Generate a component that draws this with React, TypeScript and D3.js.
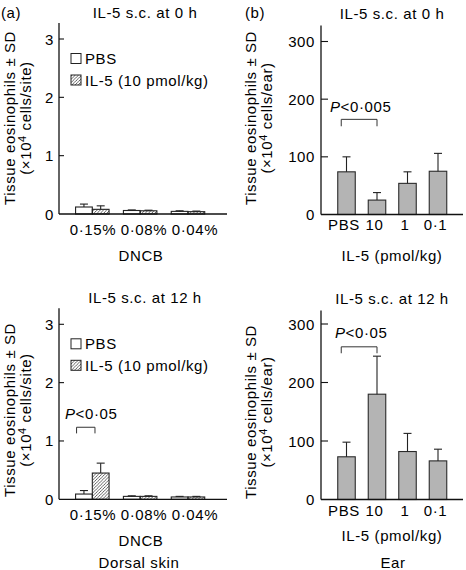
import React from 'react';
import * as d3 from 'd3';

const dncbCats = ['0·15%', '0·08%', '0·04%'];
const pbs0h = [0.12, 0.06, 0.045];
const pbs0hSd = [0.05, 0.01, 0.01];
const il50h = [0.08, 0.055, 0.04];
const il50hSd = [0.06, 0.01, 0.01];
const pbs12h = [0.09, 0.05, 0.04];
const pbs12hSd = [0.06, 0.01, 0.01];
const il512h = [0.45, 0.05, 0.04];
const il512hSd = [0.17, 0.01, 0.01];

const doseCats = ['PBS', '10', '1', '0·1'];
const ear0h = [74, 25, 54, 75];
const ear0hSd = [26, 13, 20, 31];
const ear12h = [73, 180, 82, 66];
const ear12hSd = [25, 65, 31, 20];

const skinTicks = [0, 1, 2, 3];
const earTicks = [0, 100, 200, 300];

const FONT = '"Liberation Sans", Arial, Helvetica, sans-serif';
const FS = 15;
const LS = 0.6;

function T(props: any) {
  const { children, ...rest } = props;
  return (
    <text fontFamily={FONT} fontSize={FS} letterSpacing={LS} fill="#000" {...rest}>
      {children}
    </text>
  );
}

function ErrBar({ x, y0, y1 }: { x: number; y0: number; y1: number }) {
  return (
    <g stroke="#222" strokeWidth={1.1}>
      <line x1={x} x2={x} y1={y0} y2={y1} />
      <line x1={x - 4} x2={x + 4} y1={y1} y2={y1} />
    </g>
  );
}

function YLabel({ x, cy, unit }: { x: number; cy: number; unit: string }) {
  return (
    <g>
      <T transform={`translate(${x},${cy}) rotate(-90)`} textAnchor="middle">
        Tissue eosinophils ± SD
      </T>
      <T transform={`translate(${x + 16},${cy}) rotate(-90)`} textAnchor="middle">
        (×10<tspan dy={-5} fontSize={11}>4</tspan>
        <tspan dy={5}> cells/{unit})</tspan>
      </T>
    </g>
  );
}

function SkinPanel(props: {
  y0: number;
  title: string;
  pbs: number[];
  pbsSd: number[];
  il5: number[];
  il5Sd: number[];
  sig?: boolean;
  bottomLabel?: string;
}) {
  const { y0, title, pbs, pbsSd, il5, il5Sd, sig, bottomLabel } = props;
  const axisX = 59;
  const y = d3.scaleLinear().domain([0, 3]).range([y0, y0 - 175]);
  const xb = d3.scaleBand().domain(dncbCats).range([68.4, 211.9]).paddingInner(0.3).paddingOuter(0.15);
  const xl = d3.scalePoint().domain(dncbCats).range([93, 195]);
  const bw = xb.bandwidth() / 2;
  const top = y0 - 191;
  return (
    <g>
      <T x={145} y={y0 - 196} textAnchor="middle">{title}</T>
      {dncbCats.map((c, i) => {
        const x0 = xb(c)!;
        return (
          <g key={c}>
            <rect x={x0} y={y(pbs[i])} width={bw} height={y0 - y(pbs[i])} fill="#fff" stroke="#222" strokeWidth={1.1} />
            <ErrBar x={x0 + bw / 2} y0={y(pbs[i])} y1={y(pbs[i] + pbsSd[i])} />
            <rect x={x0 + bw} y={y(il5[i])} width={bw} height={y0 - y(il5[i])} fill="url(#hatch)" stroke="#222" strokeWidth={1.1} />
            <ErrBar x={x0 + bw * 1.5} y0={y(il5[i])} y1={y(il5[i] + il5Sd[i])} />
          </g>
        );
      })}
      <line x1={axisX} x2={axisX} y1={top} y2={y0} stroke="#111" strokeWidth={1.3} />
      <line x1={axisX} x2={227} y1={y0} y2={y0} stroke="#111" strokeWidth={1.3} />
      {skinTicks.map((t) => (
        <g key={t}>
          {t > 0 && <line x1={axisX} x2={axisX + 5} y1={y(t)} y2={y(t)} stroke="#111" strokeWidth={1.1} />}
          <T x={axisX - 5} y={y(t) + 5.5} textAnchor="end">{t}</T>
        </g>
      ))}
      {dncbCats.map((c) => (
        <T key={c} x={xl(c)} y={y0 + 21} textAnchor="middle">{c}</T>
      ))}
      <T x={141} y={y0 + 46.5} textAnchor="middle">DNCB</T>
      {bottomLabel && <T x={139} y={y0 + 69} textAnchor="middle">{bottomLabel}</T>}
      {/* legend */}
      <rect x={71} y={y(3) + 14.5} width={10} height={10} fill="#fff" stroke="#222" strokeWidth={1} />
      <T x={85} y={y(3) + 25}>PBS</T>
      <rect x={71} y={y(3) + 36} width={10} height={10} fill="url(#hatch)" stroke="#222" strokeWidth={1} />
      <T x={85} y={y(3) + 46.5}>IL-5 (10 pmol/kg)</T>
      {sig && (
        <g>
          <T x={65} y={y(1.377)}>
            <tspan fontStyle="italic">P</tspan>{'<0·05'}
          </T>
          <path
            d={`M${xb(dncbCats[0])! + 1},${y(1.13)}V${y(1.235)}H${xb(dncbCats[0])! + 19.4}V${y(1.13)}`}
            fill="none"
            stroke="#333"
            strokeWidth={1}
          />
        </g>
      )}
    </g>
  );
}

function EarPanel(props: {
  y0: number;
  y300: number;
  title: string;
  vals: number[];
  sd: number[];
  pText: string;
  pY: number;
  bTop: number;
  bLeg: number;
  pX: number;
  lblDy: number;
  axisLblDy: number;
}) {
  const { y0, y300, title, vals, sd, pText, pY, bTop, bLeg, pX, lblDy, axisLblDy } = props;
  const axisX = 321;
  const y = d3.scaleLinear().domain([0, 300]).range([y0, y300]);
  const xb = d3.scaleBand().domain(doseCats).range([331.25, 453.25]).paddingInner(0.426).paddingOuter(0.213);
  const bw = xb.bandwidth();
  const top = y0 - 189;
  return (
    <g>
      <T x={392} y={y0 - 196} textAnchor="middle">{title}</T>
      {doseCats.map((c, i) => (
        <g key={c}>
          <rect x={xb(c)!} y={y(vals[i])} width={bw} height={y0 - y(vals[i])} fill="#b4b4b4" stroke="#2a2a2a" strokeWidth={1.1} />
          <ErrBar x={xb(c)! + bw / 2} y0={y(vals[i])} y1={y(vals[i] + sd[i])} />
        </g>
      ))}
      <line x1={axisX} x2={axisX} y1={top} y2={y0} stroke="#111" strokeWidth={1.3} />
      <line x1={axisX} x2={463} y1={y0} y2={y0} stroke="#111" strokeWidth={1.3} />
      {earTicks.map((t) => (
        <g key={t}>
          {t > 0 && <line x1={axisX} x2={axisX + 7} y1={y(t)} y2={y(t)} stroke="#111" strokeWidth={1.1} />}
          <T x={axisX - 6} y={y(t) + 5.5} textAnchor="end">{t}</T>
        </g>
      ))}
      {doseCats.map((c) => (
        <T key={c} x={xb(c)! + bw / 2 - 2.5} y={y0 + lblDy} textAnchor="middle">{c}</T>
      ))}
      <T x={392} y={y0 + axisLblDy} textAnchor="middle">IL-5 (pmol/kg)</T>
      <T x={pX} y={y(pY)}>
        <tspan fontStyle="italic">P</tspan>{pText}
      </T>
      <path
        d={`M${xb(doseCats[0])! + 3.5},${y(bLeg)}V${y(bTop)}H${xb(doseCats[1])! + bw / 2}V${y(bLeg)}`}
        fill="none"
        stroke="#333"
        strokeWidth={1}
      />
    </g>
  );
}

export default function App() {
  return (
    <svg width={466} height={570} style={{ position: 'absolute', left: 0, top: 0, background: '#fff' }}>
      <defs>
        <pattern id="hatch" patternUnits="userSpaceOnUse" width={3.2} height={3.2}>
          <path d="M-1,1 L1,-1 M0,3.2 L3.2,0 M2.2,4.2 L4.2,2.2" stroke="#222" strokeWidth={0.7} />
        </pattern>
      </defs>
      <rect width={466} height={570} fill="#fff" />
      <T x={1} y={17.5}>(a)</T>
      <T x={245} y={17.5}>(b)</T>
      <YLabel x={15} cy={118} unit="site" />
      <YLabel x={256} cy={118} unit="ear" />
      <YLabel x={15} cy={410} unit="site" />
      <YLabel x={256} cy={412} unit="ear" />
      <SkinPanel y0={214} title="IL-5 s.c. at 0 h" pbs={pbs0h} pbsSd={pbs0hSd} il5={il50h} il5Sd={il50hSd} />
      <SkinPanel
        y0={499.3}
        title="IL-5 s.c. at 12 h"
        pbs={pbs12h}
        pbsSd={pbs12hSd}
        il5={il512h}
        il5Sd={il512hSd}
        sig
        bottomLabel="Dorsal skin"
      />
      <EarPanel
        y0={214.5}
        y300={41.5}
        title="IL-5 s.c. at 0 h"
        vals={ear0h}
        sd={ear0hSd}
        pText="<0·005"
        pY={178}
        bTop={165}
        bLeg={153}
        pX={330}
        lblDy={15}
        axisLblDy={46}
      />
      <EarPanel
        y0={499.5}
        y300={324}
        title="IL-5 s.c. at 12 h"
        vals={ear12h}
        sd={ear12hSd}
        pText="<0·05"
        pY={276}
        bTop={261}
        bLeg={250}
        pX={335}
        lblDy={16}
        axisLblDy={41}
      />
      <T x={393} y={568} textAnchor="middle">Ear</T>
    </svg>
  );
}
